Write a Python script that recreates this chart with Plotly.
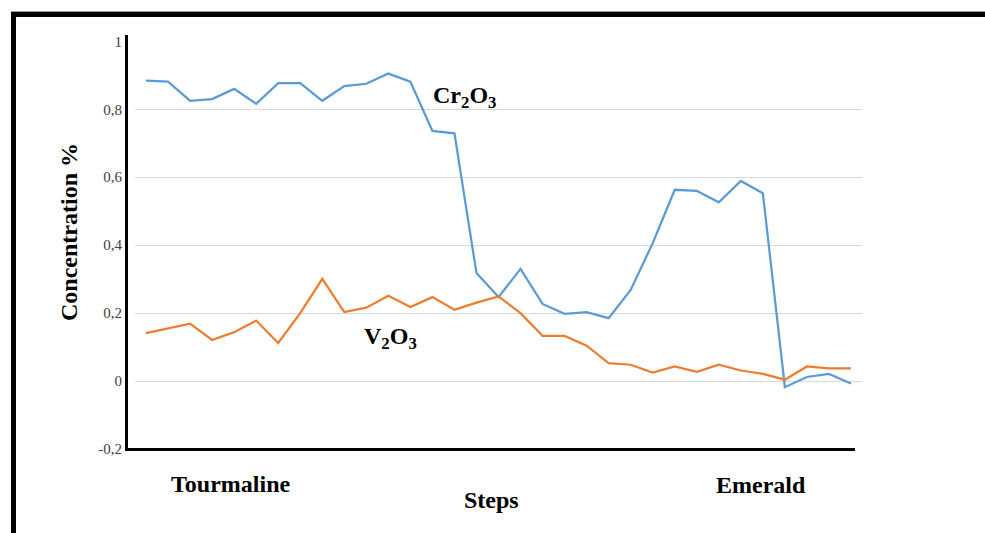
import plotly.graph_objects as go

W, H = 985, 533

steps = list(range(33))
cr2o3 = [0.884, 0.881, 0.825, 0.830, 0.860, 0.816, 0.877, 0.877, 0.825, 0.868,
         0.875, 0.905, 0.881, 0.736, 0.729, 0.318, 0.247, 0.330, 0.227, 0.198,
         0.203, 0.185, 0.268, 0.406, 0.563, 0.560, 0.526, 0.589, 0.553, -0.018,
         0.012, 0.021, -0.007]
v2o3 = [0.141, 0.155, 0.169, 0.121, 0.144, 0.178, 0.112, 0.200, 0.301, 0.203,
        0.216, 0.251, 0.218, 0.247, 0.210, 0.231, 0.249, 0.200, 0.133, 0.133,
        0.104, 0.053, 0.048, 0.025, 0.043, 0.027, 0.048, 0.031, 0.021, 0.004,
        0.043, 0.037, 0.037]
y_tickvals = [-0.2, 0, 0.2, 0.4, 0.6, 0.8, 1]
y_ticktext = ["-0,2", "0", "0,2", "0,4", "0,6", "0,8", "1"]


def px(x):
    return x / W


def py(y):
    return 1 - y / H


SERIF = "Liberation Serif, Times New Roman, serif"

fig = go.Figure()
fig.add_trace(go.Scatter(x=steps, y=cr2o3, mode="lines", name="Cr2O3",
                         line=dict(color="#5b9bd5", width=2.25), showlegend=False))
fig.add_trace(go.Scatter(x=steps, y=v2o3, mode="lines", name="V2O3",
                         line=dict(color="#ed7d31", width=2.25), showlegend=False))

fig.update_layout(
    width=W, height=H,
    margin=dict(l=0, r=0, t=0, b=0, pad=0, autoexpand=False),
    paper_bgcolor="white", plot_bgcolor="white",
    xaxis=dict(domain=[px(135), px(862)], range=[-0.5, 32.5],
               showticklabels=False, showgrid=False, zeroline=False,
               showline=False, ticks="", automargin=False),
    yaxis=dict(domain=[py(449), py(41.3)], range=[-0.2, 1],
               tickvals=y_tickvals, ticktext=y_ticktext,
               tickfont=dict(family=SERIF, size=15, color="#404040"),
               ticklabelstandoff=12, automargin=False,
               showgrid=True, gridcolor="#d9d9d9", gridwidth=1,
               zeroline=False, showline=False, ticks=""),
)

shapes = [
    # y axis thick line
    dict(type="line", xref="paper", yref="paper", x0=px(126.5), x1=px(126.5),
         y0=py(35), y1=py(451), line=dict(color="black", width=3)),
    # x axis thick line
    dict(type="line", xref="paper", yref="paper", x0=px(126), x1=px(855),
         y0=py(449.5), y1=py(449.5), line=dict(color="black", width=3)),
    # frame: top bar
    dict(type="rect", xref="paper", yref="paper", x0=px(11), x1=px(985),
         y0=py(17), y1=py(12), fillcolor="black", line=dict(width=0)),
    dict(type="line", xref="paper", yref="paper", x0=px(11), x1=px(985),
         y0=py(11.5), y1=py(11.5), line=dict(color="#9a9a9a", width=1)),
    # frame: left bar
    dict(type="rect", xref="paper", yref="paper", x0=px(11), x1=px(16),
         y0=py(533), y1=py(12), fillcolor="black", line=dict(width=0)),
]
fig.update_layout(shapes=shapes)

ann_font = dict(family=SERIF, size=24, color="black")
annotations = [
    dict(text="<b>Cr<sub>2</sub>O<sub>3</sub></b>", x=px(431), y=py(97),
         xanchor="left", yanchor="middle"),
    dict(text="<b>V<sub>2</sub>O<sub>3</sub></b>", x=px(362), y=py(338),
         xanchor="left", yanchor="middle"),
    dict(text="<b>Tourmaline</b>", x=px(230), y=py(484),
         xanchor="center", yanchor="middle"),
    dict(text="<b>Steps</b>", x=px(491), y=py(500),
         xanchor="center", yanchor="middle"),
    dict(text="<b>Emerald</b>", x=px(761), y=py(485),
         xanchor="center", yanchor="middle"),
    dict(text="<b>Concentration %</b>", x=px(69), y=py(232), textangle=-90,
         xanchor="center", yanchor="middle"),
]
for a in annotations:
    a.update(xref="paper", yref="paper", showarrow=False, font=ann_font)
fig.update_layout(annotations=annotations)

fig.write_html("out.html")
